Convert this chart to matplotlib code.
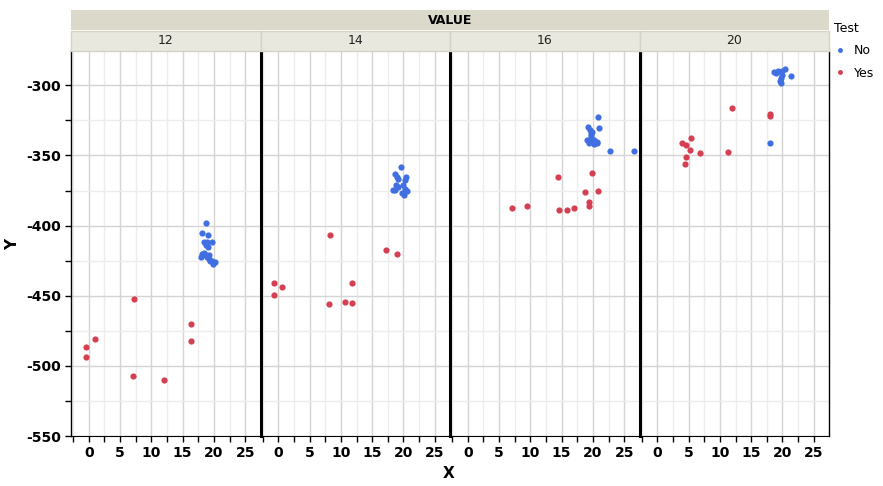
import matplotlib
matplotlib.use("Agg")
import matplotlib.pyplot as plt
from matplotlib.patches import Rectangle
from matplotlib.lines import Line2D
from matplotlib.ticker import MultipleLocator

plt.rcParams["axes.unicode_minus"] = False

# ---- data ----
panels = ["12", "14", "16", "20"]

no_x12 = [18.7, 18.05, 19.07, 18.4, 18.97, 19.66, 18.8, 19.07, 18.05, 18.4, 18.7, 19.2, 18.9, 19.2, 19.7, 20.2, 19.9, 19.4, 17.9]
no_y12 = [-398.2, -405.4, -406.8, -411.5, -411.8, -411.5, -413.5, -415.4, -420.3, -419.6, -421.0, -421.0, -422.5, -423.9, -425.3, -426.0, -427.5, -425.0, -422.2]
yes_x12 = [7.3, 1.0, -0.4, -0.4, 7.0, 12.0, 16.3, 16.3]
yes_y12 = [-452.4, -480.8, -486.5, -493.6, -507.1, -510.0, -470.0, -482.2]

no_x14 = [19.57, 18.6, 18.9, 19.2, 20.4, 20.2, 18.76, 19.1, 18.6, 19.9, 20.2, 20.6, 19.8, 20.1, 18.3]
no_y14 = [-358.3, -363.4, -365.5, -366.5, -365.5, -367.6, -371.1, -372.6, -374.7, -371.1, -374.0, -375.4, -376.8, -378.2, -374.7]
yes_x14 = [8.3, 17.15, 18.9, -0.7, 0.6, 11.85, -0.7, 8.15, 10.7, 11.85]
yes_y14 = [-406.8, -417.5, -420.3, -441.0, -443.9, -441.0, -449.6, -455.8, -454.4, -455.1]

no_x16 = [20.85, 19.24, 21.0, 19.56, 19.9, 19.7, 19.7, 19.1, 19.6, 20.2, 20.7, 19.3, 20.1, 20.6, 22.78, 26.64]
no_y16 = [-322.6, -329.7, -330.5, -331.9, -333.3, -334.7, -336.2, -339.0, -339.7, -339.0, -340.4, -341.2, -341.8, -341.2, -346.9, -346.9]
yes_x16 = [7.07, 9.43, 14.42, 14.63, 15.86, 17.04, 18.76, 19.88, 20.85, 19.4, 19.4]
yes_y16 = [-387.5, -386.1, -365.4, -388.9, -388.9, -387.5, -376.1, -362.6, -375.4, -383.2, -386.1]

no_x20 = [18.6, 19.24, 19.9, 20.4, 18.9, 19.9, 19.7, 19.6, 19.7, 21.3, 18.07]
no_y20 = [-290.5, -289.8, -289.8, -288.4, -291.2, -292.6, -294.8, -296.9, -298.4, -293.4, -341.2]
yes_x20 = [11.96, 18.0, 18.0, 5.37, 4.02, 4.56, 5.2, 6.82, 11.3, 4.56, 4.4]
yes_y20 = [-316.4, -320.5, -321.9, -337.6, -341.2, -342.6, -346.2, -348.3, -347.6, -351.1, -356.1]

series = {
    "12": (no_x12, no_y12, yes_x12, yes_y12),
    "14": (no_x14, no_y14, yes_x14, yes_y14),
    "16": (no_x16, no_y16, yes_x16, yes_y16),
    "20": (no_x20, no_y20, yes_x20, yes_y20),
}
x_ticks = [0, 5, 10, 15, 20, 25]
y_ticks = [-550, -500, -450, -400, -350, -300]

BLUE = "#3F6FE0"
RED = "#D43F52"

W, H = 883, 486
fig = plt.figure(figsize=(W / 100, H / 100), dpi=100)

left_px, right_px = 71, 829
top_px, bot_px = 51, 436
pw = (right_px - left_px) / 4

axes = []
for i, p in enumerate(panels):
    l = (left_px + i * pw) / W
    ax = fig.add_axes([l, (H - bot_px) / H, pw / W, (bot_px - top_px) / H])
    axes.append(ax)
    nx, ny, yx, yy = series[p]
    ax.scatter(nx, ny, s=20, color=BLUE, linewidths=0, zorder=3)
    ax.scatter(yx, yy, s=20, color=RED, linewidths=0, zorder=3)
    ax.set_xlim(-2.85, 27.45)
    ax.set_ylim(-550, -275.5)
    ax.set_xticks(x_ticks)
    ax.xaxis.set_minor_locator(MultipleLocator(2.5))
    ax.set_yticks(y_ticks)
    ax.yaxis.set_minor_locator(MultipleLocator(25))
    ax.grid(True, which="major", color="#D4D4D4", lw=1.0, zorder=0)
    ax.grid(True, which="minor", color="#ECECEC", lw=1.0, zorder=0)
    ax.set_axisbelow(True)
    ax.tick_params(which="both", direction="out", length=4, width=1, color="black")
    ax.tick_params(axis="x", labelsize=10, pad=3)
    ax.tick_params(axis="y", labelsize=10, pad=3)
    for lab in ax.get_xticklabels() + ax.get_yticklabels():
        lab.set_fontweight("bold")
    ax.spines["top"].set_visible(False)
    ax.spines["bottom"].set_color("black")
    ax.spines["left"].set_color("black")
    if i > 0:
        ax.spines["left"].set_linewidth(2.2)
        ax.tick_params(axis="y", which="both", left=False, labelleft=False)
    else:
        ax.spines["left"].set_linewidth(1.0)
    if i < 3:
        ax.spines["right"].set_visible(False)
    else:
        ax.spines["right"].set_color("black")
        ax.spines["right"].set_linewidth(1.0)

    # facet strip
    fig.add_artist(Rectangle(((left_px + i * pw) / W, (H - 51) / H), pw / W, 20 / H,
                             transform=fig.transFigure, facecolor="#E8E8DF",
                             edgecolor="#D5D3C5", lw=1.0))
    fig.text((left_px + (i + 0.5) * pw) / W, (H - 41) / H, p, ha="center", va="center",
             fontsize=9, color="#222222")

# VALUE band
fig.add_artist(Rectangle((left_px / W, (H - 30.5) / H), (right_px - left_px) / W, 20.5 / H,
                         transform=fig.transFigure, facecolor="#DBD9C9", edgecolor="none"))
fig.text((left_px + right_px) / 2 / W, (H - 20) / H, "VALUE", ha="center", va="center",
         fontsize=9, fontweight="bold", color="black")

# axis labels
fig.text(13 / W, (H - 244) / H, "Y", rotation=90, ha="center", va="center",
         fontsize=11, fontweight="bold")
fig.text(449 / W, (H - 473) / H, "X", ha="center", va="center",
         fontsize=11, fontweight="bold")

# legend
handles = [Line2D([], [], ls="none", marker="o", markersize=3.5, color=BLUE, mec="none"),
           Line2D([], [], ls="none", marker="o", markersize=3.5, color=RED, mec="none")]
leg = fig.legend(handles, ["No", "Yes"], title="Test", loc="upper left",
                 bbox_to_anchor=(829 / W, (H - 17) / H), frameon=False, fontsize=9,
                 title_fontsize=9, handlelength=1.0, handletextpad=0.6,
                 labelspacing=0.75, alignment="left", borderaxespad=0)

fig.savefig("out.png", dpi=100)
